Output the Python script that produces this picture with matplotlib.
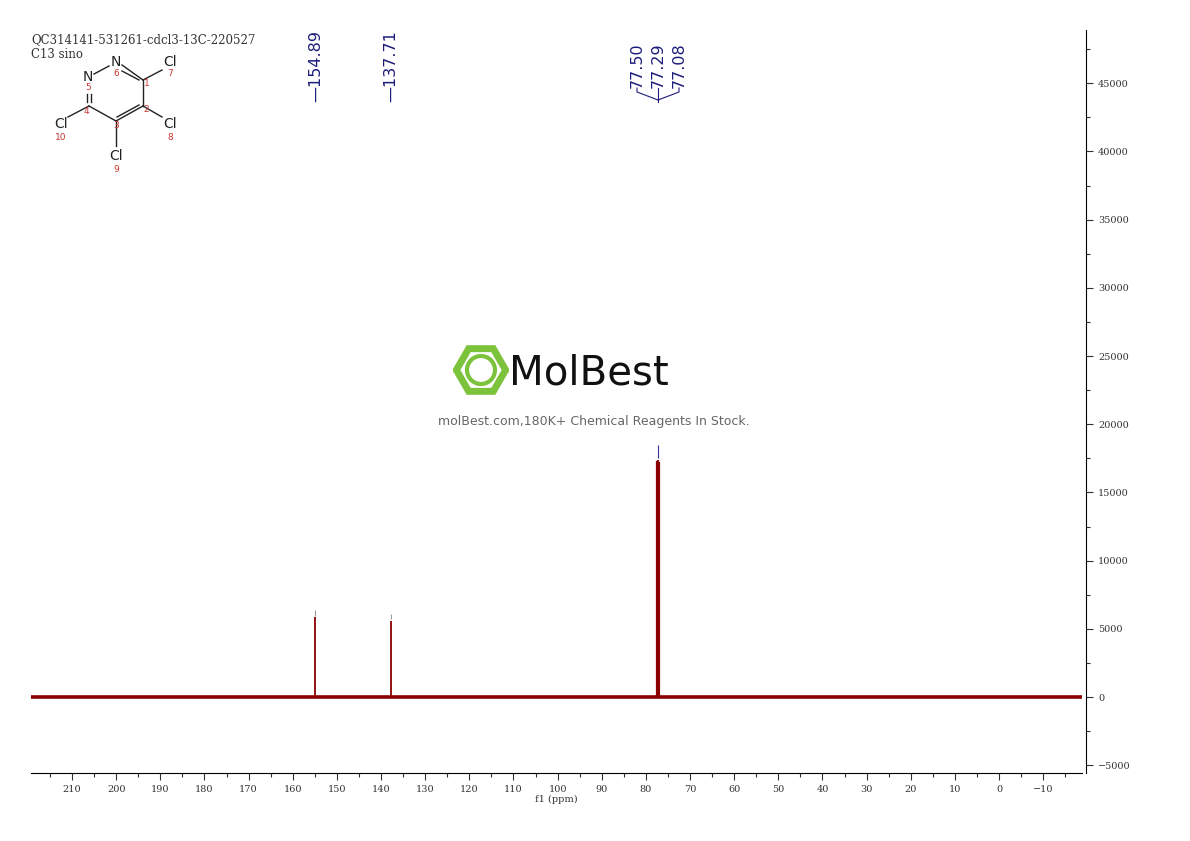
import matplotlib
matplotlib.use("Agg")
import matplotlib.pyplot as plt
from matplotlib.patches import RegularPolygon, Circle

ppm = [154.89, 137.71, 77.50, 77.29, 77.08]
intensity = [5850, 5600, 17300, 17400, 17200]
peak_labels = ["154.89", "137.71", "77.50", "77.29", "77.08"]
xticks = [210, 200, 190, 180, 170, 160, 150, 140, 130, 120, 110, 100, 90, 80, 70, 60, 50, 40, 30, 20, 10, 0, -10]
yticks = [-5000, 0, 5000, 10000, 15000, 20000, 25000, 30000, 35000, 40000, 45000]

W, H = 1190, 841
fig = plt.figure(figsize=(W/100, H/100), dpi=100)
def fx(x): return x / W
def fy(y): return 1 - y / H

ax = fig.add_axes([fx(31), fy(773), fx(1082) - fx(31), fy(30) - fy(773)])
ax.set_xlim(219.3, -18.8)
ax.set_ylim(-5570, 48900)
red = "#8b0000"
ax.axhline(0, color=red, lw=2.6, zorder=2)
for p, h in zip(ppm, intensity):
    ax.vlines(p, 0, h, color=red, lw=1.3 if p > 100 else 1.6, zorder=3)
for p, h in zip(ppm[:2], intensity[:2]):
    ax.vlines(p, h + 100, h + 500, color="#999999", lw=0.8)
ax.vlines(77.29, 17500, 18500, color="#333399", lw=0.8)

for s in ["top", "left"]:
    ax.spines[s].set_visible(False)
ax.spines["right"].set_position(("outward", 3))
ax.yaxis.tick_right()
ax.set_yticks(yticks)
ax.set_yticklabels([str(v).replace("-", "−") for v in yticks], fontsize=7, family="DejaVu Serif", color="#333333")
ax.set_yticks(range(-5000, 48000, 2500), minor=True)
ax.set_xticks(xticks)
ax.set_xticklabels([str(v).replace("-", "−") for v in xticks], fontsize=7, family="DejaVu Serif", color="#333333")
ax.set_xticks(range(-15, 220, 5), minor=True)
ax.tick_params(length=5, width=0.8, color="#333333")
ax.tick_params(which="minor", length=3, width=0.8, color="#333333")
ax.set_xlabel("f1 (ppm)", fontsize=7, family="DejaVu Serif", color="#333333", labelpad=1)

navy = "#1c1c7a"
for i, xp in enumerate([316, 391]):
    fig.text(fx(xp), fy(102), "—" + peak_labels[i], rotation=90, ha="center", va="bottom",
             fontsize=11.5, color=navy)
for i, xp in enumerate([637, 658, 679]):
    fig.text(fx(xp), fy(88), peak_labels[2 + i], rotation=90, ha="center", va="bottom",
             fontsize=11.5, color=navy)
for xp in [637, 679]:
    fig.add_artist(plt.Line2D([fx(xp), fx(xp), fx(658)], [fy(88), fy(92), fy(100)],
                              transform=fig.transFigure, color=navy, lw=0.8))
fig.add_artist(plt.Line2D([fx(658), fx(658)], [fy(88), fy(102)], transform=fig.transFigure, color=navy, lw=0.8))

fig.text(fx(31), fy(43), "QC314141-531261-cdcl3-13C-220527", fontsize=8.5, family="DejaVu Serif", color="#333333")
fig.text(fx(31), fy(58), "C13 sino", fontsize=8.5, family="DejaVu Serif", color="#333333")

def bond(a, b):
    fig.add_artist(plt.Line2D([fx(a[0]), fx(b[0])], [fy(a[1]), fy(b[1])], transform=fig.transFigure, color="#222222", lw=1))
C1 = (143, 80); C2 = (143, 106); C3 = (116, 121); C4 = (89, 106)
bond((122, 65), C1); bond((122, 71), (139, 80))
bond(C1, C2)
bond(C2, C3); bond((139, 105), (117, 117))
bond(C3, C4)
bond((87, 94), (87, 102)); bond((91, 94), (91, 102))
bond((94, 74), (109, 66))
bond(C1, (162, 70)); bond(C2, (162, 117)); bond(C4, (68, 117)); bond(C3, (116, 146))
for (x, y, t) in [(116, 62, "N"), (88, 77, "N"), (170, 62, "Cl"), (170, 124, "Cl"), (61, 124, "Cl"), (116, 156, "Cl")]:
    fig.text(fx(x), fy(y), t, ha="center", va="center", fontsize=10, color="#222222")
for (x, y, t) in [(116, 74, "6"), (88, 88, "5"), (147, 84, "1"), (146, 109, "2"), (86, 111, "4"), (116, 126, "3"),
                  (170, 73, "7"), (170, 137, "8"), (61, 137, "10"), (116, 169, "9")]:
    fig.text(fx(x), fy(y), t, ha="center", va="center", fontsize=6.5, color="#cc3333")

# watermark logo in its own equal-aspect axes
green = "#7cc23a"
lax = fig.add_axes([fx(452), fy(398), fx(58), fy(342) - fy(398)])
lax.set_xlim(-1, 1); lax.set_ylim(-1, 1); lax.set_aspect("equal"); lax.axis("off")
lax.add_patch(RegularPolygon((0, 0), 6, radius=0.88, orientation=0.5236, fill=False, ec=green, lw=5))
lax.add_patch(Circle((0, 0), radius=0.5, fill=False, ec=green, lw=3))
fig.text(fx(509), fy(373), "MolBest", fontsize=29, family="DejaVu Sans",
         va="center", ha="left", color="#111111")
fig.text(fx(594), fy(421), "molBest.com,180K+ Chemical Reagents In Stock.", fontsize=9, ha="center", va="center", color="#666666")

fig.savefig("out.png", dpi=100)
